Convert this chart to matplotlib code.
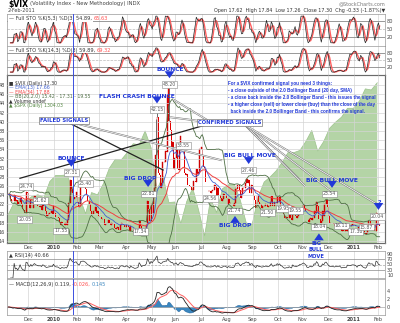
import numpy as np
import pandas as pd
import matplotlib
matplotlib.use('Agg')
import matplotlib.pyplot as plt

# daily closes, Nov 5 2009 .. Feb 2 2011
month_labels = ['Nov', 'Dec', '2010', 'Feb', 'Mar', 'Apr', 'May', 'Jun', 'Jul',
                'Aug', 'Sep', 'Oct', 'Nov', 'Dec', '2011', 'Feb']
month_days = [17, 22, 19, 19, 23, 21, 20, 22, 21, 22, 21, 21, 21, 22, 20, 2]

vix_close = [
    # Nov 09
    24.19, 24.19, 23.15, 22.84, 22.84, 24.15, 22.73, 22.89, 22.14, 22.58, 23.51, 22.19, 21.10, 20.70, 20.05, 24.74, 24.51,
    # Dec 09
    22.18, 21.33, 22.98, 21.25, 22.57, 23.84, 22.82, 22.06, 21.59, 21.49, 21.62, 20.82, 22.20, 21.68, 20.51, 19.54, 19.71, 19.93, 20.05, 20.54, 20.01, 21.68,
    # Jan 10
    20.04, 19.35, 19.16, 19.06, 18.13, 17.55, 18.25, 17.85, 17.63, 17.91, 17.58, 18.68, 22.27, 27.31, 25.41, 24.55, 23.14, 23.73, 24.62,
    # Feb 10
    22.59, 21.48, 21.60, 26.08, 26.11, 26.51, 26.00, 25.40, 23.96, 22.73, 22.09, 20.63, 19.89, 20.02, 20.64, 21.37, 20.14, 20.66, 19.50,
    # Mar 10
    19.26, 18.83, 18.83, 18.72, 17.42, 17.79, 17.92, 18.57, 18.06, 17.58, 18.00, 17.69, 16.91, 16.62, 16.97, 17.02, 16.35, 17.55, 17.88, 17.77, 17.44, 17.13, 17.59,
    # Apr 10
    17.47, 17.02, 16.23, 17.20, 16.46, 16.14, 15.58, 15.59, 15.72, 15.89, 18.36, 17.34, 15.73, 16.32, 16.47, 16.62, 17.47, 22.81, 21.08, 18.44, 22.05,
    # May 10
    20.19, 23.84, 25.66, 32.80, 40.95, 28.84, 28.32, 25.52, 26.68, 31.24, 31.30, 33.55, 33.40, 45.79, 40.10, 38.32, 34.61, 35.66, 29.68, 32.07,
    # Jun 10
    35.20, 29.63, 29.46, 35.48, 36.93, 33.70, 33.55, 28.79, 28.35, 28.58, 26.23, 25.95, 25.86, 25.05, 25.05, 27.17, 26.91, 29.74, 28.53, 29.00, 34.13, 34.54,
    # Jul 10
    32.86, 30.12, 29.65, 26.84, 24.98, 24.98, 25.01, 24.56, 24.89, 25.14, 26.25, 25.97, 23.93, 25.64, 24.13, 23.47, 22.73, 23.19, 24.25, 24.13, 23.50,
    # Aug 10
    22.01, 23.19, 22.21, 22.22, 22.14, 21.74, 22.37, 25.39, 25.39, 26.24, 25.06, 23.46, 24.33, 25.49, 25.49, 26.70, 27.46, 26.70, 27.37, 24.45, 26.15, 26.05,
    # Sep 10
    23.89, 22.91, 21.31, 23.80, 22.62, 21.99, 21.99, 21.21, 21.56, 21.72, 22.10, 21.99, 21.50, 21.72, 22.51, 23.87, 21.71, 21.65, 22.52, 22.36, 23.70,
    # Oct 10
    22.50, 23.53, 21.76, 21.49, 19.95, 18.96, 19.07, 19.36, 19.15, 19.88, 19.03, 18.66, 20.88, 19.61, 19.55, 19.08, 19.55, 19.85, 20.71, 20.71, 21.20,
    # Nov 10
    21.83, 21.23, 20.56, 18.52, 18.26, 18.74, 19.08, 18.56, 19.07, 20.61, 20.20, 22.58, 21.58, 18.75, 18.04, 18.37, 20.63, 19.56, 22.10, 22.96, 21.36,
    # Dec 10
    19.39, 18.01, 18.02, 17.99, 17.74, 17.25, 17.61, 17.55, 17.61, 17.94, 17.39, 16.11, 16.43, 16.20, 16.47, 16.22, 17.67, 17.52, 17.28, 17.52, 17.75, 17.75,
    # Jan 11
    17.61, 17.38, 16.38, 17.14, 17.14, 17.54, 16.89, 16.23, 15.87, 15.46, 15.87, 17.31, 18.30, 17.56, 17.65, 17.59, 16.64, 16.15, 20.04, 19.53,
    # Feb 11
    17.63, 17.30,
]

# intraday spikes that show as long wicks
spike_idx = [124, 125, 134, 135]
spike_high = [40.71, 42.15, 47.66, 48.20]

# S&P 500 closes, one every 5 trading days
spx_close = [1066, 1088, 1094, 1091, 1099, 1102, 1097, 1126, 1137, 1137, 1138, 1097, 1097, 1068, 1106, 1102,
             1122, 1150, 1166, 1165, 1178, 1194, 1192, 1217, 1187, 1111, 1136, 1088, 1089, 1050, 1090, 1114,
             1074, 1028, 1095, 1070, 1113, 1120, 1121, 1092, 1051, 1049, 1098, 1125, 1134, 1145, 1160, 1178,
             1178, 1182, 1198, 1218, 1181, 1198, 1222, 1233, 1242, 1258, 1258, 1271, 1293, 1291, 1304]

c = pd.Series(vix_close, dtype=float)
n = len(c)
x = np.arange(n)
prev = c.shift(1).fillna(c.iloc[0])

ema13 = c.ewm(span=13, adjust=False).mean()
ema34 = c.ewm(span=34, adjust=False).mean()
mid = c.rolling(20, min_periods=1).mean()
sd = c.rolling(20, min_periods=1).std(ddof=0)
bb_up, bb_lo = mid + 2 * sd, mid - 2 * sd


def full_sto(s, look):
    lo = s.rolling(look, min_periods=1).min()
    hi = s.rolling(look, min_periods=1).max()
    raw = 100 * (s - lo) / (hi - lo).replace(0, np.nan)
    k = raw.rolling(3, min_periods=1).mean()
    return k, k.rolling(3, min_periods=1).mean()


sto5k, sto5d = full_sto(c, 5)
sto14k, sto14d = full_sto(c, 14)

delta = c.diff().fillna(0)
gain = delta.clip(lower=0).ewm(alpha=1 / 14, adjust=False).mean()
loss = (-delta.clip(upper=0)).ewm(alpha=1 / 14, adjust=False).mean()
rsi = 100 - 100 / (1 + gain / loss.replace(0, np.nan))

macd = c.ewm(span=12, adjust=False).mean() - c.ewm(span=26, adjust=False).mean()
signal = macd.ewm(span=9, adjust=False).mean()
hist = macd - signal

starts = np.cumsum([0] + month_days[:-1])
tick_pos = starts[1:] - 0.5
tick_lab = month_labels[1:]

# ---------------- figure ----------------
fig = plt.figure(figsize=(4.0, 3.23), dpi=100)
L, W = 7 / 400, 378 / 400


def panel(top, bot):
    return fig.add_axes([L, 1 - bot / 323, W, (bot - top) / 323])


ax1 = panel(14, 46)
ax2 = panel(46, 75)
ax = panel(75, 243)
ax_rsi = panel(251, 278)
ax_m = panel(279, 315)

grid_c = '#d4d4d4'
blue_line_x = 54.5
for a in [ax1, ax2, ax, ax_rsi, ax_m]:
    a.set_xlim(-1, n + 3.5)
    a.set_xticks(tick_pos)
    a.tick_params(axis='both', length=0, labelsize=3.6, colors='#444444', pad=1.5)
    a.yaxis.tick_right()
    a.grid(True, axis='x', color=grid_c, lw=0.5)
    for s in a.spines.values():
        s.set_color('#999999')
        s.set_linewidth(0.5)
    a.axvline(blue_line_x, color='#3b4fe0', lw=0.7, zorder=6)
    a.set_xticklabels([])

# stochastic panels
for a, k, d, lab, vals in [(ax1, sto5k, sto5d, 'Full STO %K(5,3) %D(3) ', ('54.89, ', '65.63')),
                           (ax2, sto14k, sto14d, 'Full STO %K(14,3) %D(3) ', ('59.89, ', '69.32'))]:
    a.set_ylim(-12, 108)
    a.set_yticks([20, 50, 80])
    for yv in [20, 80]:
        a.axhline(yv, color='#888888', lw=0.6)
    a.axhline(50, color='#bbbbbb', lw=0.5, ls='--')
    a.plot(x, d, color='#ff6060', lw=1.0)
    a.plot(x, k, color='#222222', lw=0.5)
    t = a.text(0.004, 0.93, '— ' + lab + vals[0], transform=a.transAxes, fontsize=3.6,
               va='top', color='#333333', bbox=dict(fc='white', ec='none', pad=0.2))
    a.annotate(vals[1], xy=(1, 0), xycoords=t, fontsize=3.6, color='#ff5050', va='bottom')

# main panel, S&P 500 area on its own hidden scale behind the price
ax_s = ax.twinx()
ax_s.set_zorder(0)
ax.set_zorder(2)
ax.patch.set_visible(False)
spx_x = np.arange(len(spx_close)) * 5
ax_s.fill_between(spx_x, spx_close, 0, color='#b4d4a6', lw=0)
ax_s.plot(spx_x, spx_close, color='#9cc28c', lw=0.5)
ax_s.set_ylim(1015, 1318)
ax_s.set_yticks([])
ax_s.set_xlim(-1, n + 3.5)

ax.set_ylim(13.6, 50.2)
ax.set_yticks(np.arange(14, 49, 2))
ax.grid(True, axis='y', color=grid_c, lw=0.5)

ax.plot(x, bb_up, color='#4f6f45', lw=0.6)
ax.plot(x, bb_lo, color='#4f6f45', lw=0.6)
ax.plot(x, ema34, color='#f04040', lw=0.7)
ax.plot(x, ema13, color='#4060d0', lw=0.6)

up = (c >= prev).values
body_lo = np.minimum(c, prev)
body_h = np.abs(c - prev)
ax.vlines(spike_idx, [c[i] for i in spike_idx], spike_high, color='#555555', lw=0.6)
ax.bar(x[~up], body_h[~up], bottom=body_lo[~up], width=0.8, color='#e00000', lw=0)
ax.bar(x[up], body_h[up], bottom=body_lo[up], width=0.8, color='#cc0000', edgecolor='#cc0000', lw=0.3)
ax.vlines(134, 45.79, 47.66, color='#e00000', lw=1.0)

# legend block
leg = [('■ $VIX (Daily) 17.30', '#333333'), ('— EMA(13) 17.66', '#4060d0'),
       ('— EMA(34) 17.88', '#f04040'), ('— BB(20,2.0) 15.42 - 17.31 - 19.55', '#4f6f45'),
       ('▲ Volume undef', '#333333'), ('▲ $SPX (Daily) 1304.03', '#558844')]
for i, (tx, col) in enumerate(leg):
    ax.text(0.004, 0.965 - i * 0.026, tx, transform=ax.transAxes, fontsize=3.3, color=col, va='top')

blue = '#2138d8'
ann_kw = dict(fontsize=4.3, color=blue, fontweight='bold', ha='center', va='center', clip_on=False, zorder=10)
box_kw = dict(fontsize=3.3, color='#555555', ha='center', va='center', zorder=10,
              bbox=dict(fc='white', ec='#888888', lw=0.4, pad=0.6))


def down_arrow(xi, y0, y1):
    ax.annotate('', xy=(xi, y1), xytext=(xi, y0), zorder=11, annotation_clip=False,
                arrowprops=dict(arrowstyle='simple,head_length=0.5,head_width=0.7,tail_width=0.3',
                                color=blue, lw=0))


# connector lines: black single ones and white ones with a grey edge
black_links = [((46.9, 40.3), (130.1, 29.5)), ((169.6, 39.6), (9.9, 27.7))]
white_links = [((46.9, 40.3), (179.7, 31.6)), ((169.6, 40.0), (138.5, 44.9)),
               ((169.6, 39.9), (136.0, 41.0)), ((199.0, 39.3), (245.2, 27.3)),
               ((199.0, 39.3), (249.4, 26.0)), ((199.0, 39.3), (270.4, 25.1)),
               ((199.0, 39.3), (310.8, 21.9))]
for (xa, ya), (xb, yb) in black_links:
    ax.plot([xa, xb], [ya, yb], color='#222222', lw=0.9, zorder=5)
for (xa, ya), (xb, yb) in white_links:
    ax.plot([xa, xb], [ya, yb], color='#777777', lw=1.3, zorder=5, solid_capstyle='butt')
    ax.plot([xa, xb], [ya, yb], color='white', lw=0.55, zorder=5)

# callouts
ax.text(136, 51.3, 'BOUNCE', **ann_kw)
down_arrow(135.5, 50.3, 48.9)
ax.text(135.5, 48.2, '48.20', **box_kw)

ax.text(108, 45.6, 'FLASH CRASH BOUNCE', **ann_kw)
down_arrow(125, 44.9, 43.4)
ax.text(125, 42.7, '42.15', **box_kw)

ax.text(53, 31.9, 'BOUNCE', **ann_kw)
down_arrow(53, 31.1, 29.6)
ax.text(53, 28.9, '27.31', **box_kw)

ax.text(111, 27.7, 'BIG DROP', **ann_kw)
down_arrow(117.5, 26.7, 25.2)
ax.text(117.5, 24.3, '22.81', **box_kw)

ax.text(203, 32.7, 'BIG BULL MOVE', **ann_kw)
down_arrow(202, 31.7, 30.2)
ax.text(202, 29.5, '27.46', **box_kw)

ax.text(190.5, 17.4, 'BIG DROP', **ann_kw)
down_arrow(190.5, 18.6, 20.1)
ax.text(190, 20.6, '21.74', **box_kw)

ax.text(272, 27.3, 'BIG BULL MOVE', **ann_kw)
down_arrow(272, 26.5, 25.0)
ax.text(270, 24.3, '23.54', **box_kw)

# stacked label below the panel, one word per line
for word, yv in [('BIG', 13.5), ('BULL', 12.1), ('MOVE', 10.7)]:
    ax.text(258.7, yv, word, **{**ann_kw, 'fontsize': 3.7})
down_arrow(261, 14.7, 16.3)
ax.text(261, 17.1, '18.04', **box_kw)

ax.text(311.5, 22.4, '?', **ann_kw)
down_arrow(311, 21.6, 20.2)
ax.text(310, 19.4, '20.04', **box_kw)

# price value boxes
for i, dy in [(15, 1.2), (14, -1.3), (27, 1.2), (44, -1.3), (65, 1.2), (111, -1.3), (147, 1.3),
              (170, -1.3), (218, -1.3), (231, 1.2), (241, 1.2), (280, 1.2), (292, -1.3), (301, 1.2)]:
    ax.text(i, c[i] + dy, f'{c[i]:.2f}', **box_kw)

for tx, xi, yi in [('FAILED SIGNALS', 47, 40.3), ('CONFIRMED SIGNALS', 186, 39.9)]:
    ax.text(xi, yi, tx, fontsize=3.8, color=blue, fontweight='bold', ha='center', va='center', zorder=12,
            bbox=dict(fc='white', ec='#777777', lw=0.5, pad=0.8))

note = ['For a $VIX confirmed signal you need 3 things:',
        '- a close outside of the 2.0 Bollinger Band (20 day, SMA)',
        '- a close back inside the 2.0 Bollinger Band - this issues the signal',
        '- a higher close (sell) or lower close (buy) than the close of the day',
        '  back inside the 2.0 Bollinger Band - this confirms the signal.']
for i, tx in enumerate(note):
    ax.text(185, 48.3 - i * 1.5, tx, fontsize=3.3, color=blue, va='center', zorder=12,
            family='Liberation Sans', fontweight='bold')

# date labels under the main and the MACD panels
for a in [ax, ax_m]:
    a.set_xticklabels(tick_lab)
    for lbl in a.get_xticklabels():
        lbl.set_fontsize(3.6)
        if lbl.get_text() in ('2010', '2011'):
            lbl.set_fontweight('bold')

# RSI
ax_rsi.set_ylim(0, 100)
ax_rsi.set_yticks([10, 30, 50, 70, 90])
for yv in [30, 70]:
    ax_rsi.axhline(yv, color='#888888', lw=0.5)
ax_rsi.axhline(50, color='#aaaaaa', lw=0.5, ls='--')
ax_rsi.plot(x, rsi, color='#333333', lw=0.5)
ax_rsi.text(0.004, 0.93, '▲ RSI(14) 40.66', transform=ax_rsi.transAxes, fontsize=3.6, va='top', color='#333333')

# MACD
ax_m.set_ylim(-2, 7)
ax_m.set_yticks([0, 2, 4])
ax_m.axhline(0, color='#aaaaaa', lw=0.5)
ax_m.fill_between(x, hist, 0, color='#3a86bf', lw=0.3, edgecolor='#1f5f99')
ax_m.plot(x, signal, color='#ff6060', lw=0.7)
ax_m.plot(x, macd, color='#222222', lw=0.6)
t = ax_m.text(0.004, 0.93, '— MACD(12,26,9) 0.119, ', transform=ax_m.transAxes, fontsize=3.6,
              va='top', color='#333333')
t2 = ax_m.annotate('-0.026, ', xy=(1, 0), xycoords=t, fontsize=3.6, color='#ff5050', va='bottom')
ax_m.annotate('0.145', xy=(1, 0), xycoords=t2, fontsize=3.6, color='#3a86bf', va='bottom')

# header
fig.text(8 / 400, 1 - 4 / 323, '$VIX', fontsize=5.5, fontweight='bold', va='center')
fig.text(30 / 400, 1 - 4 / 323, '(Volatility Index - New Methodology) INDX', fontsize=3.8, va='center', color='#444444')
fig.text(8 / 400, 1 - 10 / 323, '2-Feb-2011', fontsize=3.5, va='center', color='#444444')
fig.text(385 / 400, 1 - 4 / 323, '@StockCharts.com', fontsize=3.5, va='center', ha='right', color='#777777')
fig.text(385 / 400, 1 - 10.5 / 323, 'Open 17.62  High 17.84  Low 17.26  Close 17.30  Chg -0.33 (-1.87%)▼',
         fontsize=3.5, va='center', ha='right', color='#333333')

fig.savefig('out.png', dpi=100, facecolor='white')
